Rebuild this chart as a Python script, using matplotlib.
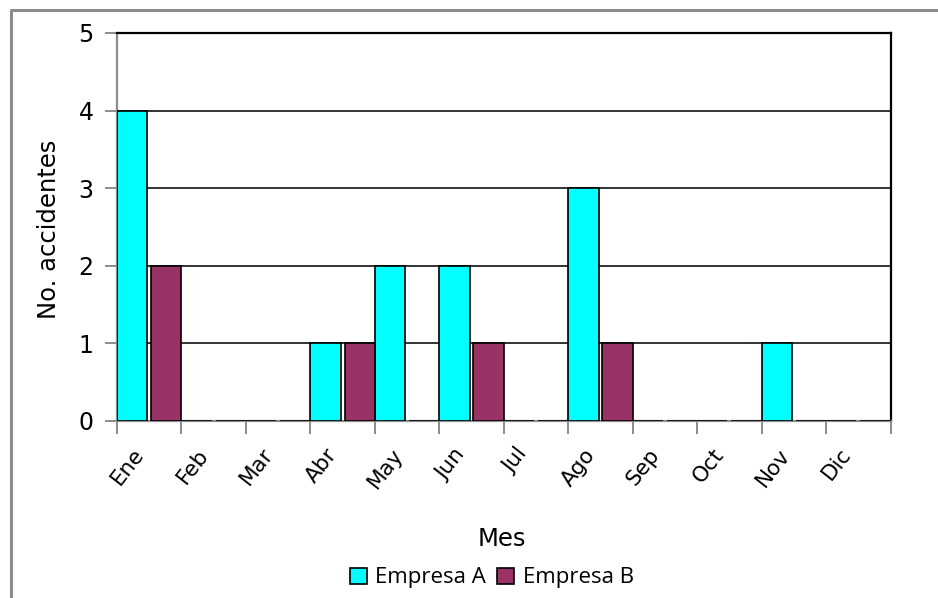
import matplotlib
matplotlib.use("Agg")
import matplotlib.pyplot as plt
import matplotlib.transforms as mtransforms
from matplotlib.patches import Patch
from matplotlib.lines import Line2D
import numpy as np

months = ["Ene", "Feb", "Mar", "Abr", "May", "Jun", "Jul", "Ago", "Sep", "Oct", "Nov", "Dic"]
empresa_a = [4, 0, 0, 1, 2, 2, 0, 3, 0, 0, 1, 0]
empresa_b = [2, 0, 0, 1, 0, 1, 0, 1, 0, 0, 0, 0]
y_ticks = [0, 1, 2, 3, 4, 5]

W, H = 938, 598
fig = plt.figure(figsize=(W / 100, H / 100), dpi=100)
fig.patch.set_facecolor("white")

# outer chart frame (left + top visible)
fig.add_artist(Line2D([11 / W, 11 / W, 1.0], [0.0, 1 - 10 / H, 1 - 10 / H],
                      transform=fig.transFigure, color="#8c8c8c", lw=2.2))

ax = fig.add_axes([117 / W, 1 - 421 / H, (890.5 - 117) / W, (421 - 33) / H])

x = np.arange(len(months))
w = 0.47
ax.bar(x + w / 2, empresa_a, width=w, color="#00FFFF", edgecolor="black", lw=1.2,
       label="Empresa A", zorder=3)
ax.bar(x + 1 - w / 2, empresa_b, width=w, color="#993366", edgecolor="black", lw=1.2,
       label="Empresa B", zorder=3)

ax.set_xlim(0, 12)
ax.set_ylim(0, 5)
ax.tick_params(axis="both", direction="out", length=9, width=1.4, color="#8c8c8c")
ax.tick_params(axis="y", pad=8)
ax.tick_params(axis="x", pad=8)

ax.set_yticks(y_ticks)
ax.set_yticklabels([str(v) for v in y_ticks], fontsize=17)
ax.yaxis.grid(True, color="#333333", lw=1.4, zorder=1)
ax.set_axisbelow(True)

ax.set_xticks(list(x) + [12])
ax.set_xticklabels(months + [""], rotation=52, ha="center", fontsize=15.5)
offset = mtransforms.ScaledTranslation(11 / 100, 0, fig.dpi_scale_trans)
for lbl in ax.get_xticklabels():
    lbl.set_transform(lbl.get_transform() + offset)

for s in ["left", "bottom"]:
    ax.spines[s].set_color("#8c8c8c")
    ax.spines[s].set_linewidth(1.6)
for s in ["right", "top"]:
    ax.spines[s].set_color("black")
    ax.spines[s].set_linewidth(1.6)

fig.text(49 / W, 1 - 229 / H, "No. accidentes", rotation=90, ha="center", va="center",
         fontsize=17.5)
fig.text(502 / W, 1 - 539 / H, "Mes", ha="center", va="center", fontsize=17.5)

handles = [Patch(facecolor="#00FFFF", edgecolor="black", lw=1.2, label="Empresa A"),
           Patch(facecolor="#993366", edgecolor="black", lw=1.2, label="Empresa B")]
fig.legend(handles=handles, loc="center", bbox_to_anchor=(492 / W, 1 - 578 / H),
           ncol=2, frameon=False, handlelength=0.75, handleheight=0.75,
           handletextpad=0.4, columnspacing=0.5, prop={"family": "Open Sans", "size": 16})

fig.savefig("out.png", dpi=100, facecolor="white")
